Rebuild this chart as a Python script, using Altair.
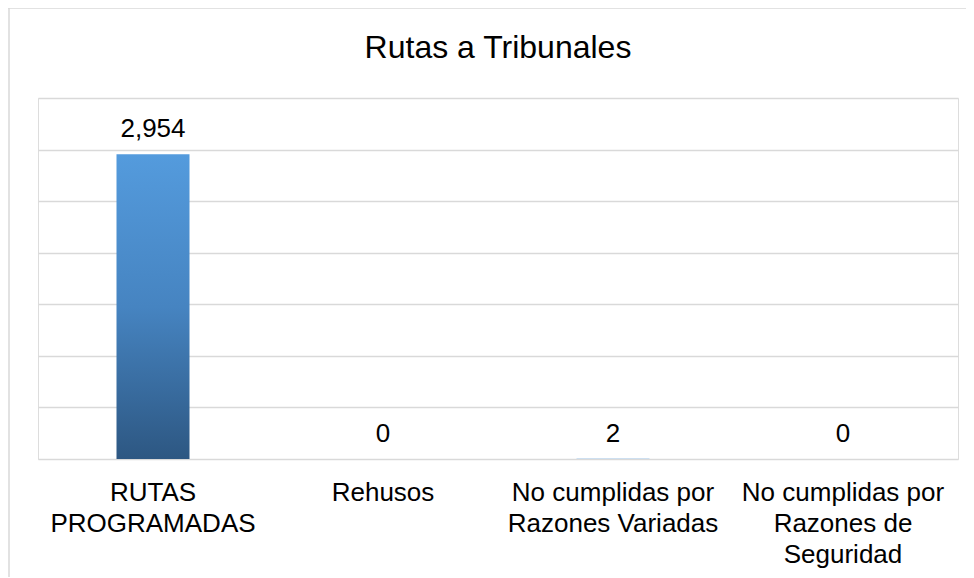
import altair as alt
import pandas as pd

categories = ["RUTAS\nPROGRAMADAS", "Rehusos", "No cumplidas por\nRazones Variadas",
              "No cumplidas  por\nRazones de\nSeguridad"]
values = [2954, 0, 2, 0]
grid_ticks = [0, 500, 1000, 1500, 2000, 2500, 3000, 3500]
title_text = "Rutas a Tribunales"

df = pd.DataFrame({"cat": categories, "val": values})
FONT = "Liberation Sans"

x_enc = alt.X("cat:N", sort=categories,
              scale=alt.Scale(paddingInner=0, paddingOuter=0),
              axis=alt.Axis(title=None, labelAngle=0, ticks=False, domain=False,
                            labelFontSize=26, labelFont=FONT, labelColor="#000000",
                            labelLineHeight=31, labelPadding=41, labelLimit=400,
                            labelOverlap=False, labelBaseline="alphabetic",
                            labelExpr="split(datum.label, '\\n')"))
y_enc = alt.Y("val:Q", scale=alt.Scale(domain=[0, 3500], nice=False),
              axis=alt.Axis(title=None, labels=False, ticks=False, domain=False,
                            values=grid_ticks, grid=True, gridColor="#D9D9D9",
                            gridWidth=1.5))

gradient = alt.Gradient(
    gradient="linear", x1=0, y1=0, x2=0, y2=1,
    stops=[alt.GradientStop(color="#549BDD", offset=0),
           alt.GradientStop(color="#4684C1", offset=0.5),
           alt.GradientStop(color="#2D5782", offset=1)])

bars = alt.Chart(df).mark_bar(size=73, color=gradient).encode(x=x_enc, y=y_enc)

labels = alt.Chart(df).mark_text(fontSize=26, font=FONT, color="#000000",
                                 baseline="alphabetic", dy=-17).encode(
    x=alt.X("cat:N", sort=categories),
    y=alt.Y("val:Q"),
    text=alt.Text("val:Q", format=",.0f"))

frame_df = pd.DataFrame({"k": [0]})
left_line = alt.Chart(frame_df).mark_rule(color="#D9D9D9", strokeWidth=1.5).encode(
    x=alt.value(-29), y=alt.value(-90), y2=alt.value(480))
top_line = alt.Chart(frame_df).mark_rule(color="#D9D9D9", strokeWidth=1.5).encode(
    y=alt.value(-90), x=alt.value(-33), x2=alt.value(940))
title = alt.Chart(frame_df).mark_text(fontSize=32, font=FONT, color="#000000",
                                      baseline="alphabetic", align="center").encode(
    x=alt.value(460), y=alt.value(-40), text=alt.value(title_text))

chart = alt.layer(left_line, top_line, title, bars, labels).properties(
    width=920, height=361,
    padding={"left": 30, "top": 90, "right": 8, "bottom": 118},
    autosize=alt.AutoSizeParams(type="none"),
).configure_view(strokeWidth=0, stroke="transparent").configure(background="white")

chart.save("out.html", embed_options={"renderer": "svg", "actions": False})
